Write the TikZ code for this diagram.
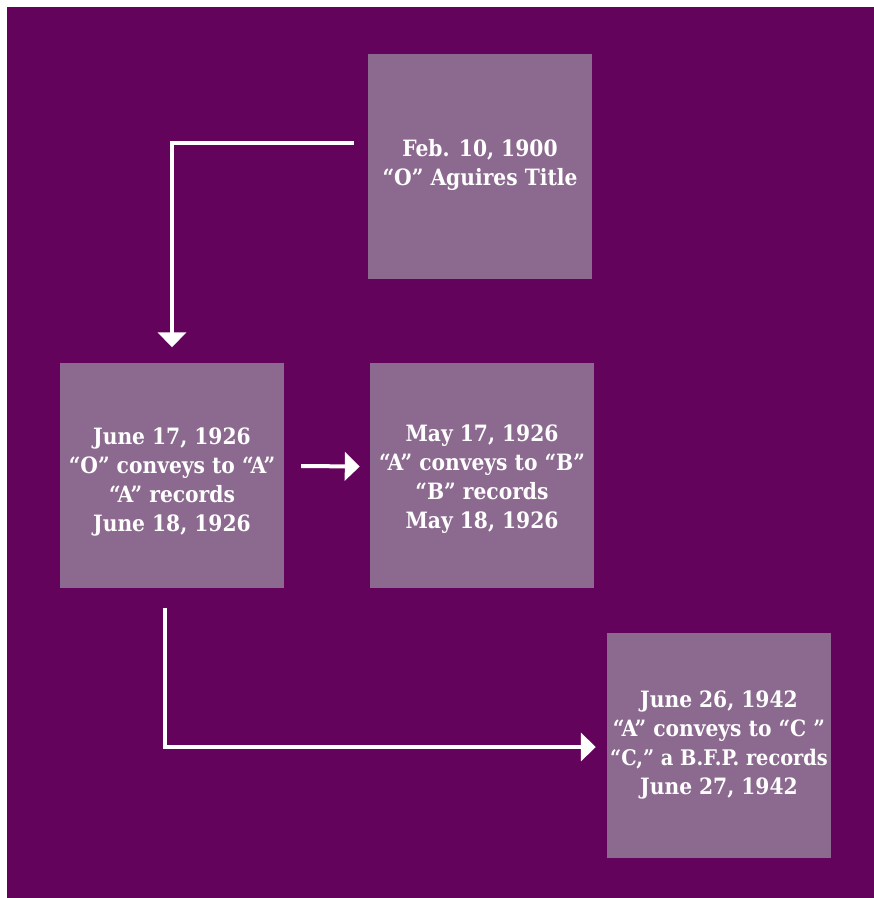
\documentclass[tikz,border=0pt]{standalone}
\usepackage{fontspec}
\setmainfont{DejaVu Serif Condensed}
\usetikzlibrary{arrows.meta}
\definecolor{bgpurple}{RGB}{99,3,91}
\definecolor{boxpurple}{RGB}{140,106,143}
\begin{document}
\begin{tikzpicture}[
        x=1pt, y=-1pt,
        event/.style={fill=boxpurple, text=white, minimum width=224pt, minimum height=225pt,
            inner sep=0pt, align=center, font=\bfseries\fontsize{22.5}{29}\selectfont},
        flow/.style={draw=white, line width=4pt, -{Triangle[width=28pt,length=15pt]}},
    ]
    \fill[white] (0,0) rectangle (874,898);
    \fill[bgpurple] (7,7) rectangle (874,898);
    \node[event](feb10) at (480,166.5){Feb. 10, 1900\\“O” Aguires Title\rule[-8pt]{0pt}{8pt}};
    \node[event](jun17) at (172,475){\rule{0pt}{31pt}June 17, 1926\\“O” conveys to “A”\\“A” records\\June 18, 1926};
    \node[event](may17) at (482,475.5){\rule{0pt}{23pt}May 17, 1926\\“A” conveys to “B”\\“B” records\\May 18, 1926};
    \node[event](jun26) at (719,745){June 26, 1942\\“A” conveys to “C ”\\{\fontsize{21.5}{29}\selectfont “C,” a B.F.P. records}\\June 27, 1942};
    \draw[flow] ([xshift=-14pt,yshift=24pt]feb10.west) -| ([yshift=15pt]jun17.north);
    \draw[flow] ([xshift=17pt,yshift=9pt]jun17.east) -- ([xshift=-10pt,yshift=9pt]may17.west);
    \draw[flow] ([xshift=-7pt,yshift=-20pt]jun17.south) |- ([xshift=-11pt,yshift=-2pt]jun26.west);
\end{tikzpicture}
\end{document}
